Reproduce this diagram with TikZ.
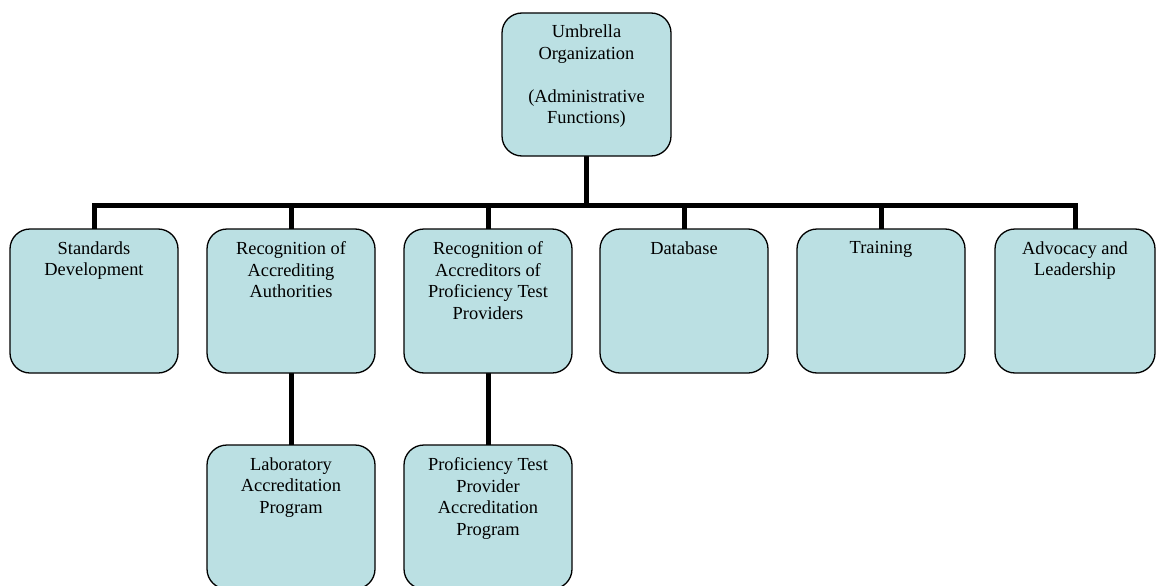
\documentclass[tikz,border=0pt]{standalone}
\usepackage{fontspec}
\setmainfont{Liberation Serif}
\usetikzlibrary{backgrounds}
\definecolor{boxfill}{HTML}{BBE0E3}
\tikzset{
  orgbox/.style={draw=black, line width=1.3pt, fill=boxfill, rounded corners=20pt,
    minimum width=168pt, minimum height=144pt, inner sep=0pt, outer sep=0pt},
  orgtext/.style={anchor=north, inner sep=0pt, align=center,
    font=\fontsize{18.4pt}{21.5pt}\selectfont},
  conn/.style={draw=black, line width=5pt, line join=miter, line cap=butt}
}
\begin{document}
\begin{tikzpicture}[x=1pt,y=1pt]
\useasboundingbox (0,0) rectangle (1156,-586);
\clip (0,0) rectangle (1156,-586);
\coordinate (bar) at (0,-205);
\node[orgbox, minimum width=169pt, minimum height=143pt] (top) at (586.5,-84.5) {};
\node[orgbox] (b1) at (94,-301) {};
\node[orgbox] (b2) at (291,-301) {};
\node[orgbox] (b3) at (488,-301) {};
\node[orgbox] (b4) at (684,-301) {};
\node[orgbox] (b5) at (881,-301) {};
\node[orgbox, minimum width=160pt] (b6) at (1075,-301) {};
\node[orgbox] (c1) at (291,-517) {};
\node[orgbox] (c2) at (488,-517) {};
\begin{scope}[on background layer]
\draw[conn] (top.south) -- (top.south |- bar);
\draw[conn] (b1.north) -- (b1.north |- bar) -- (b6.north |- bar) -- (b6.north);
\foreach \n in {b2,b3,b4,b5} {\draw[conn] (\n.north) -- (\n.north |- bar);}
\draw[conn] (b2.south) -- (c1.north);
\draw[conn] (b3.south) -- (c2.north);
\end{scope}
\node[orgtext] (ttop) at ([yshift=-12pt]top.north) {Umbrella\\Organization\\[21.5pt](Administrative\\Functions)};
\node[orgtext] (t1) at ([yshift=-12.4pt]b1.north) {Standards\\Development};
\node[orgtext] (t2) at ([yshift=-12.4pt]b2.north) {Recognition of\\Accrediting\\Authorities};
\node[orgtext] (t3) at ([yshift=-12.4pt]b3.north) {Recognition of\\Accreditors of\\Proficiency Test\\Providers};
\node[orgtext] (t4) at ([yshift=-12.4pt]b4.north) {Database};
\node[orgtext] (t5) at ([yshift=-12.4pt]b5.north) {Training};
\node[orgtext] (t6) at ([yshift=-12.4pt]b6.north) {Advocacy and\\Leadership};
\node[orgtext] (tc1) at ([yshift=-12.4pt]c1.north) {Laboratory\\Accreditation\\Program};
\node[orgtext] (tc2) at ([yshift=-12.4pt]c2.north) {Proficiency Test\\Provider\\Accreditation\\Program};
\end{tikzpicture}
\end{document}
